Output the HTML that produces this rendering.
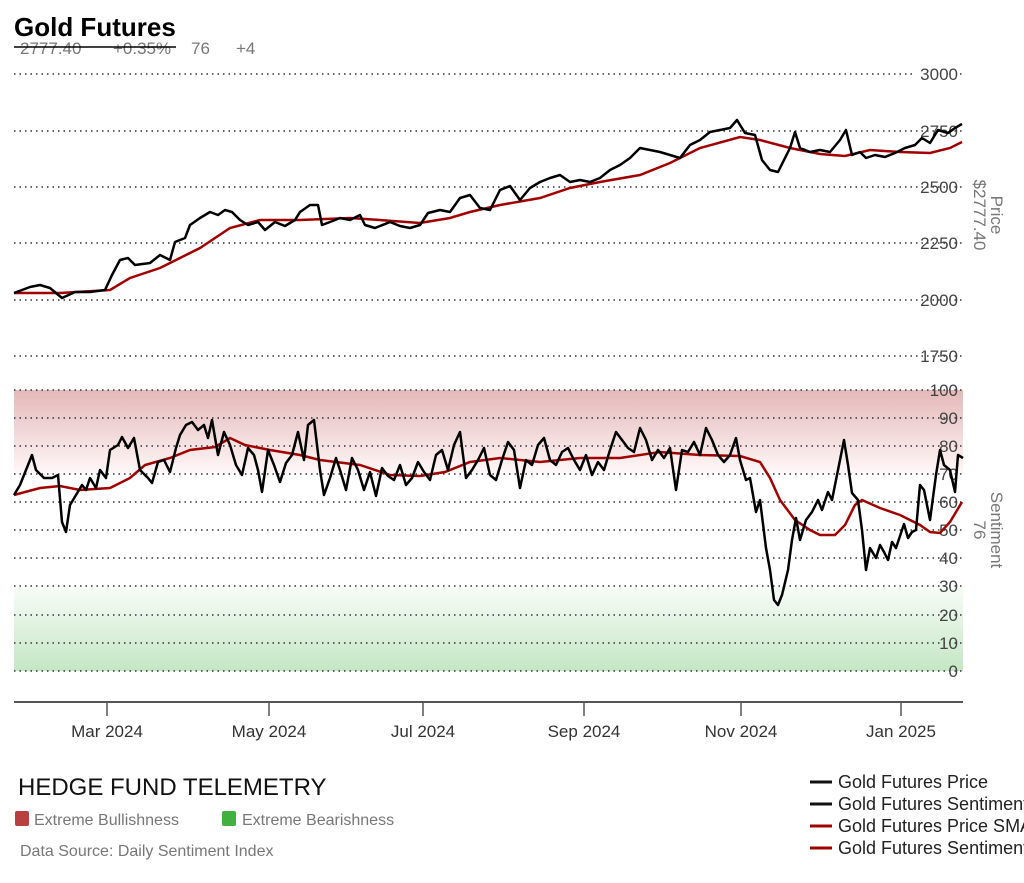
<!DOCTYPE html>
<html><head><meta charset="utf-8"><style>
body{margin:0;background:#fff;width:1024px;height:878px;overflow:hidden;font-family:"Liberation Sans",sans-serif}
</style></head><body>
<svg width="1024" height="878" viewBox="0 0 1024 878" xmlns="http://www.w3.org/2000/svg" font-family="Liberation Sans, sans-serif">
<defs>
<linearGradient id="rg" x1="0" y1="0" x2="0" y2="1"><stop offset="0" stop-color="#e4b8b8"/><stop offset="1" stop-color="#fff8f8"/></linearGradient>
<linearGradient id="gg" x1="0" y1="0" x2="0" y2="1"><stop offset="0" stop-color="#f8fdf8"/><stop offset="1" stop-color="#c4e6c4"/></linearGradient>
</defs>
<rect x="14" y="390" width="949" height="84" fill="url(#rg)"/>
<rect x="14" y="586" width="949" height="85" fill="url(#gg)"/>
<g stroke="#333" stroke-width="1.5" stroke-dasharray="1.5,4">
<line x1="14" y1="74" x2="963" y2="74"/><line x1="14" y1="131" x2="963" y2="131"/><line x1="14" y1="187" x2="963" y2="187"/><line x1="14" y1="243" x2="963" y2="243"/><line x1="14" y1="300" x2="963" y2="300"/><line x1="14" y1="356" x2="963" y2="356"/>
<line x1="14" y1="390" x2="963" y2="390"/><line x1="14" y1="418" x2="963" y2="418"/><line x1="14" y1="446" x2="963" y2="446"/><line x1="14" y1="474" x2="963" y2="474"/><line x1="14" y1="502" x2="963" y2="502"/><line x1="14" y1="530" x2="963" y2="530"/><line x1="14" y1="558" x2="963" y2="558"/><line x1="14" y1="586" x2="963" y2="586"/><line x1="14" y1="615" x2="963" y2="615"/><line x1="14" y1="643" x2="963" y2="643"/><line x1="14" y1="671" x2="963" y2="671"/>
</g>
<g font-size="17" fill="#444" text-anchor="end">
<rect x="912" y="64" width="48" height="20" fill="#fff"/>
<text x="958" y="80">3000</text><text x="958" y="137">2750</text><text x="958" y="193">2500</text><text x="958" y="249">2250</text><text x="958" y="306">2000</text><text x="958" y="362">1750</text>
<text x="958" y="396">100</text><text x="958" y="424">90</text><text x="958" y="452">80</text><text x="958" y="480">70</text><text x="958" y="508">60</text><text x="958" y="536">50</text><text x="958" y="564">40</text><text x="958" y="592">30</text><text x="958" y="621">20</text><text x="958" y="649">10</text><text x="958" y="677">0</text>
</g>
<g font-size="17" fill="#777" text-anchor="middle">
<text transform="translate(991,215) rotate(90)">Price</text>
<text transform="translate(974,215) rotate(90)">$2777.40</text>
<text transform="translate(991,530) rotate(90)">Sentiment</text>
<text transform="translate(974,530) rotate(90)">76</text>
</g>
<polyline fill="none" stroke="#a00000" stroke-width="2.5" points="14,293 60,293 110,290 130,278 160,268 180,258 200,248 230,228 260,220 300,220 350,218 380,220 420,223 450,218 470,212 500,205 540,198 570,188 600,182 640,175 670,163 700,148 740,137 760,140 790,148 820,154 845,156 870,150 900,152 930,153 950,148 962,142"/>
<polyline fill="none" stroke="#000" stroke-width="2.5" stroke-linejoin="round" points="14,293 30,287 40,285 50,288 62,298 75,292 90,292 105,290 112,275 120,260 128,258 135,265 150,263 160,255 170,260 175,242 185,238 190,225 200,218 210,212 218,215 225,210 232,212 240,220 248,225 258,222 265,230 275,222 285,226 295,220 300,212 310,205 318,205 322,225 330,222 340,218 350,220 360,215 365,225 375,228 390,222 400,226 410,228 420,225 428,213 440,210 450,212 460,198 470,195 480,208 490,210 500,190 510,186 520,200 530,188 540,182 550,178 560,175 570,182 580,180 590,182 600,178 610,170 620,165 630,158 640,148 650,150 660,152 670,155 680,158 690,145 700,140 710,132 720,130 730,128 737,120 745,133 755,135 762,160 770,170 778,172 790,148 795,132 800,148 810,152 820,150 830,152 840,140 846,130 852,155 860,152 866,158 875,155 885,157 895,153 905,148 915,145 922,138 930,143 938,130 948,133 955,128 962,124"/>
<polyline fill="none" stroke="#a00000" stroke-width="2.5" points="14,495 40,488 60,486 80,490 110,488 130,478 145,465 170,458 190,450 215,447 230,438 245,445 270,450 300,455 320,460 360,465 390,475 420,476 445,472 470,462 500,458 540,462 580,458 620,458 660,452 700,455 740,456 760,462 770,478 780,500 795,520 810,530 820,535 835,535 845,525 855,505 862,500 880,508 900,515 920,525 930,532 940,533 950,522 962,502"/>
<polyline fill="none" stroke="#000" stroke-width="2.5" stroke-linejoin="round" points="14,495 20,485 28,465 32,455 36,470 44,478 52,478 58,475 62,522 66,532 70,505 76,495 82,485 86,490 90,478 96,488 100,470 106,478 110,450 118,445 122,437 128,448 134,438 140,470 148,478 152,483 158,462 164,460 170,472 176,448 180,435 186,425 192,422 198,430 204,425 208,438 212,420 218,455 224,432 230,445 236,465 242,475 248,448 254,455 258,470 262,492 268,450 274,465 280,482 286,463 292,455 298,432 304,460 308,425 314,420 320,470 324,495 330,478 336,458 340,470 346,490 352,458 358,470 364,490 370,472 376,496 382,468 388,476 394,480 400,465 406,485 412,478 418,462 424,472 430,480 436,455 442,450 448,470 454,445 460,432 466,478 472,470 478,460 484,448 490,475 496,480 502,460 508,442 514,450 520,488 526,460 532,465 538,445 544,438 550,460 556,465 562,452 568,448 574,460 580,470 586,455 592,475 598,462 604,470 610,450 616,432 622,440 628,448 634,452 640,428 646,440 652,460 658,450 664,458 670,448 676,490 682,450 688,452 694,442 700,455 706,428 712,440 718,455 724,462 730,455 736,438 740,460 746,480 750,478 756,512 760,500 766,548 770,570 774,600 778,605 782,595 788,570 792,540 796,518 800,540 806,520 812,512 818,500 822,510 828,492 832,500 838,470 844,440 848,465 852,493 858,500 862,530 866,570 870,548 876,558 880,545 884,552 888,560 892,542 896,548 900,536 904,524 908,538 912,532 916,530 920,485 924,490 930,520 936,475 940,450 944,465 950,470 955,492 958,455 963,458"/>
<line x1="14" y1="702" x2="963" y2="702" stroke="#555" stroke-width="2"/>
<g stroke="#555" stroke-width="1.5"><line x1="107" y1="702" x2="107" y2="716"/><line x1="269" y1="702" x2="269" y2="716"/><line x1="423" y1="702" x2="423" y2="716"/><line x1="584" y1="702" x2="584" y2="716"/><line x1="741" y1="702" x2="741" y2="716"/><line x1="901" y1="702" x2="901" y2="716"/></g>
<g font-size="17" fill="#333" text-anchor="middle">
<text x="107" y="737">Mar 2024</text><text x="269" y="737">May 2024</text><text x="423" y="737">Jul 2024</text><text x="584" y="737">Sep 2024</text><text x="741" y="737">Nov 2024</text><text x="901" y="737">Jan 2025</text>
</g>
<text x="14" y="36" font-size="26" font-weight="bold" fill="#000">Gold Futures</text>
<g font-size="17" fill="#777"><text x="20" y="54">2777.40</text><text x="113" y="54">+0.35%</text><text x="191" y="54">76</text><text x="236" y="54">+4</text></g>
<line x1="14" y1="47" x2="176" y2="47" stroke="#000" stroke-width="1.5"/>
<text x="18" y="795" font-size="24" fill="#111">HEDGE FUND TELEMETRY</text>
<rect x="15" y="811" width="14" height="15" rx="2" fill="#b94040"/><text x="34" y="825" font-size="16" fill="#777">Extreme Bullishness</text>
<rect x="222" y="811" width="14" height="15" rx="2" fill="#40b040"/><text x="242" y="825" font-size="16" fill="#777">Extreme Bearishness</text>
<text x="20" y="856" font-size="16" fill="#777">Data Source: Daily Sentiment Index</text>
<g stroke-width="3"><line x1="810" y1="782" x2="832" y2="782" stroke="#111"/><line x1="810" y1="804" x2="832" y2="804" stroke="#111"/><line x1="810" y1="826" x2="832" y2="826" stroke="#a00000"/><line x1="810" y1="848" x2="832" y2="848" stroke="#a00000"/></g>
<g font-size="18" fill="#222"><text x="838" y="788">Gold Futures Price</text><text x="838" y="810">Gold Futures Sentiment</text><text x="838" y="832">Gold Futures Price SMA</text><text x="838" y="854">Gold Futures Sentiment</text></g>
</svg>
</body></html>
